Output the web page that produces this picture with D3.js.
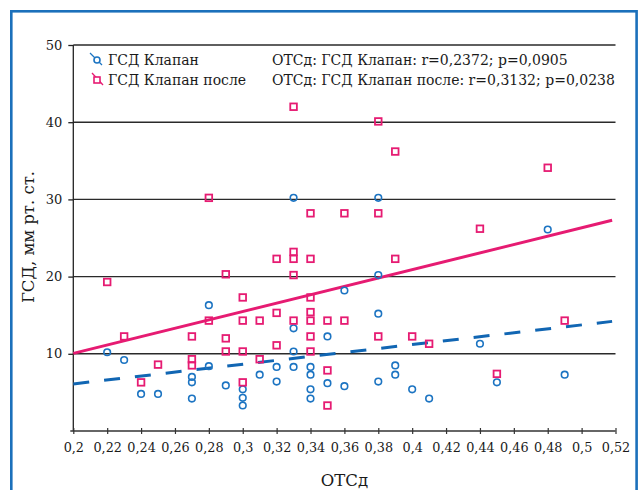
<!DOCTYPE html>
<html><head><meta charset="utf-8">
<script src="https://cdn.jsdelivr.net/npm/d3@7"></script>
<style>html,body{margin:0;padding:0;background:#fff;} svg{display:block;}</style>
</head><body>
<script>
// ---- data ----
const xTicks = [0.2,0.22,0.24,0.26,0.28,0.3,0.32,0.34,0.36,0.38,0.4,0.42,0.44,0.46,0.48,0.5,0.52];
const yTicks = [10,20,30,40,50];
const seriesNames = ["ГСД Клапан", "ГСД Клапан после"];
const statsTexts = ["ОТСд: ГСД Клапан: r=0,2372; p=0,0905", "ОТСд: ГСД Клапан после: r=0,3132; p=0,0238"];
const xTitle = "ОТСд";
const yTitle = "ГСД, мм рт. ст.";

const klapanX = [0.22,0.23,0.24,0.25,0.27,0.27,0.27,0.28,0.28,0.29,0.30,0.30,0.30,0.31,0.32,0.32,0.33,0.33,0.33,0.33,0.34,0.34,0.34,0.34,0.35,0.35,0.36,0.36,0.38,0.38,0.38,0.38,0.39,0.39,0.40,0.41,0.44,0.45,0.48,0.49];
const klapanY = [10.2,9.2,4.8,4.8,7.0,6.3,4.2,16.3,8.4,5.9,5.4,4.3,3.3,7.3,8.3,6.4,30.2,13.3,10.3,8.3,8.3,7.3,5.4,4.2,12.25,6.2,18.2,5.8,30.2,20.2,15.2,6.4,8.5,7.3,5.4,4.2,11.3,6.3,26.1,7.3];

const posleX = [0.22,0.23,0.24,0.25,0.27,0.27,0.27,0.28,0.28,0.29,0.29,0.29,0.30,0.30,0.30,0.30,0.31,0.31,0.32,0.32,0.32,0.33,0.33,0.33,0.33,0.33,0.34,0.34,0.34,0.34,0.34,0.34,0.34,0.35,0.35,0.35,0.36,0.36,0.38,0.38,0.38,0.39,0.39,0.40,0.41,0.44,0.45,0.48,0.49];
const posleY = [19.3,12.25,6.3,8.6,12.25,9.3,8.5,30.2,14.3,20.3,12.0,10.3,17.3,14.3,10.3,6.3,14.3,9.3,22.3,15.3,11.1,42,23.2,22.3,20.2,14.3,28.2,22.3,17.3,15.4,14.3,12.25,10.3,14.3,7.85,3.3,28.2,14.3,40.1,28.2,12.25,36.2,22.3,12.25,11.3,26.2,7.4,34.1,14.3];

const fitX = [0.2, 0.518];
const klapanFitY = [6.1, 14.2];
const posleFitY = [10.05, 27.3];

// ---- styles ----
const W = 643, H = 490;
const blue = "#1c74c2", blueLine = "#1166b3", pink = "#e61b72", frameBlue = "#1b70bb";
const font = "DejaVu Serif";
const ink = "#1a1a1a";

const svg = d3.select("body").append("svg").attr("width", W).attr("height", H);

// outer frame
svg.append("rect").attr("x", 11.3).attr("y", 11.3).attr("width", 625.3).attr("height", 520)
  .attr("fill", "none").attr("stroke", frameBlue).attr("stroke-width", 2.6);

const x = d3.scaleLinear().domain([0.2, 0.52]).range([73.3, 615.5]);
const y = d3.scaleLinear().domain([0, 50]).range([431, 45]);

// y ticks
const yAxis = d3.axisLeft(y).tickValues(yTicks).tickSize(5).tickPadding(6).tickFormat(d3.format("d"));
const gy = svg.append("g").attr("transform", `translate(${x(0.2)},0)`).call(yAxis);
gy.select(".domain").remove();
gy.selectAll(".tick line").attr("stroke", "#222").attr("stroke-width", 1.3);
gy.selectAll(".tick text").attr("font-family", font).attr("font-size", 13).attr("fill", ink);

// gridlines
svg.append("g").selectAll("line").data(yTicks).join("line")
  .attr("x1", x(0.2)).attr("x2", x(0.52)).attr("y1", d => y(d)).attr("y2", d => y(d))
  .attr("stroke", "#2a2a2a").attr("stroke-width", 1.4);

// y axis line
svg.append("line").attr("x1", x(0.2)).attr("x2", x(0.2)).attr("y1", y(50)).attr("y2", y(0))
  .attr("stroke", "#222").attr("stroke-width", 1.3);

// x axis
const xAxis = d3.axisBottom(x).tickValues(xTicks).tickSize(3).tickPadding(9)
  .tickFormat(d => String(+d.toFixed(2)).replace(".", ","));
const gx = svg.append("g").attr("transform", `translate(0,${y(0)})`).call(xAxis);
gx.select(".domain").attr("d", `M${x(0.2)-3},0H${x(0.52)}`).attr("stroke", "#333").attr("stroke-width", 1.3);
gx.selectAll(".tick line").attr("y1", -3).attr("stroke", "#333").attr("stroke-width", 1.2);
gx.selectAll(".tick text").attr("font-family", font).attr("font-size", 12.8).attr("fill", ink);

// fit lines
const line = d3.line().x(d => x(d[0])).y(d => y(d[1]));
svg.append("path").datum(d3.zip(fitX, posleFitY)).attr("d", line)
  .attr("stroke", pink).attr("stroke-width", 3).attr("fill", "none");
svg.append("path").datum(d3.zip(fitX, klapanFitY)).attr("d", line)
  .attr("stroke", blueLine).attr("stroke-width", 3).attr("fill", "none").attr("stroke-dasharray", "16,15");

// points
const klapan = d3.zip(klapanX, klapanY);
const posle = d3.zip(posleX, posleY);
svg.append("g").selectAll("circle").data(klapan).join("circle")
  .attr("cx", d => x(d[0])).attr("cy", d => y(d[1])).attr("r", 3.3)
  .attr("fill", "none").attr("stroke", blue).attr("stroke-width", 1.6);
svg.append("g").selectAll("rect").data(posle).join("rect")
  .attr("x", d => x(d[0]) - 3.3).attr("y", d => y(d[1]) - 3.3).attr("width", 6.6).attr("height", 6.6)
  .attr("fill", "none").attr("stroke", pink).attr("stroke-width", 1.8);

// legend
const leg = svg.append("g");
const legY = [60, 80];
leg.append("line").attr("x1", 90).attr("y1", 53).attr("x2", 102).attr("y2", 65).attr("stroke", blue).attr("stroke-width", 1.3);
leg.append("circle").attr("cx", 97).attr("cy", legY[0]).attr("r", 3).attr("fill", "#fff").attr("stroke", blue).attr("stroke-width", 1.6);
leg.append("line").attr("x1", 92).attr("y1", 73).attr("x2", 103).attr("y2", 85).attr("stroke", pink).attr("stroke-width", 1.3);
leg.append("rect").attr("x", 94).attr("y", legY[1] - 3).attr("width", 6).attr("height", 6).attr("fill", "#fff").attr("stroke", pink).attr("stroke-width", 1.6);

leg.selectAll("text.name").data(seriesNames).join("text").attr("class", "name")
  .attr("x", 108).attr("y", (d, i) => legY[i] + 5).text(d => d)
  .attr("font-family", font).attr("font-size", 14).attr("fill", ink);
leg.selectAll("text.stat").data(statsTexts).join("text").attr("class", "stat")
  .attr("x", 272).attr("y", (d, i) => legY[i] + 5).text(d => d)
  .attr("font-family", font).attr("font-size", 14).attr("fill", ink);

// axis titles
svg.append("text").attr("x", 344.5).attr("y", 486).attr("text-anchor", "middle")
  .attr("font-family", font).attr("font-size", 16.5).attr("fill", ink).text(xTitle);
svg.append("text").attr("transform", "translate(34,237) rotate(-90)").attr("text-anchor", "middle")
  .attr("font-family", font).attr("font-size", 16.5).attr("fill", ink).text(yTitle);
</script>
</body></html>
